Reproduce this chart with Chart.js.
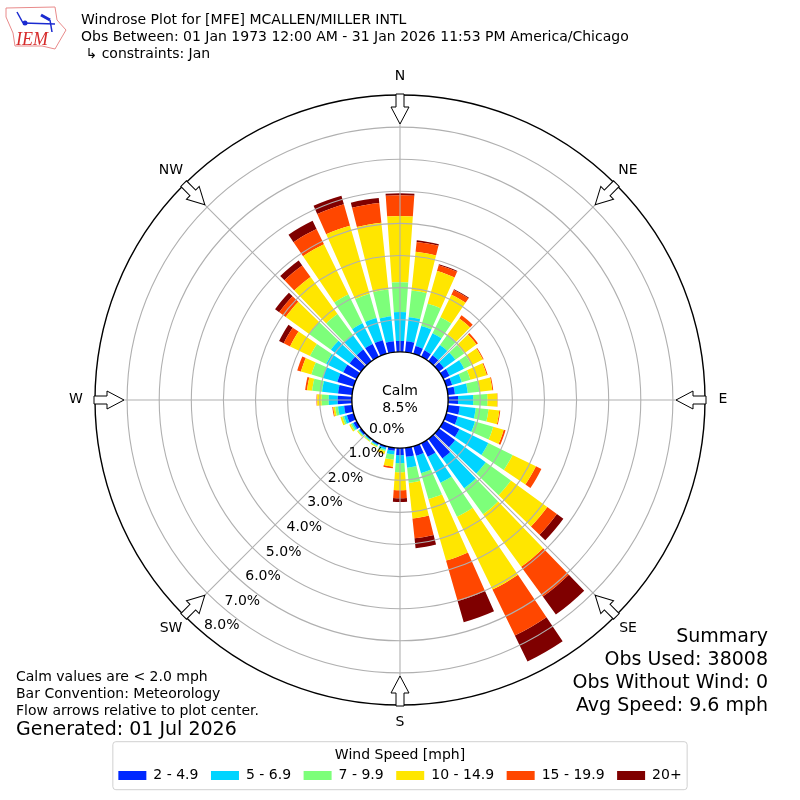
<!DOCTYPE html>
<html>
<head>
<meta charset="utf-8">
<style>
  html, body { margin: 0; padding: 0; background: #fff; }
  #wrap { width: 800px; height: 800px; }
</style>
<script src="https://cdn.jsdelivr.net/npm/chart.js@4/dist/chart.umd.min.js"></script>
</head>
<body>
<div id="wrap"><canvas id="rose" width="800" height="800"></canvas></div>
<script>
// direction bins, clockwise from north (percent of obs per speed band)
const directions = [0,10,20,30,40,50,60,70,80,90,100,110,120,130,140,150,160,170,180,190,200,210,220,230,240,250,260,270,280,290,300,310,320,330,340,350];
const band2to5 = [.34,.34,.25,.22,.22,.19,.22,.19,.22,.31,.37,.37,.56,.62,.75,.47,.31,.28,.22,.09,.05,.05,.03,.06,.11,.22,.25,.44,.44,.53,.47,.44,.44,.44,.44,.34];
const band5to7 = [.90,.75,.65,.59,.40,.44,.50,.31,.40,.47,.50,.56,1.00,1.18,1.15,.90,.56,.34,.25,.12,.06,.03,.03,.03,.05,.09,.19,.28,.50,.47,.59,.72,.56,.72,.72,.78];
const band7to10 = [.93,.84,.72,.56,.40,.34,.25,.28,.37,.44,.40,.59,.84,.97,1.00,1.18,.84,.47,.28,.16,.05,.03,.03,.03,.05,.06,.09,.22,.31,.37,.56,.84,.81,1.00,.78,.84];
const band10to15 = [2.06,1.21,1.06,.78,.62,.47,.40,.53,.40,.31,.34,.34,.81,1.40,2.02,2.52,1.99,1.12,.56,.22,.08,.03,.02,.03,.05,.06,.06,.14,.16,.34,.69,.90,1.43,1.74,2.21,2.09];
const band15to20 = [.65,.31,.19,.16,.12,.06,.03,.03,.03,.01,.03,.06,.19,.37,1.15,1.59,1.31,.62,.25,.05,.02,0,0,0,0,0,.03,.02,.06,.12,.22,.25,.44,.53,.69,.62];
const band20up = [.06,.05,.03,.03,0,0,0,0,0,0,0,0,0,.25,.69,.90,.69,.31,.12,0,0,0,0,0,0,0,0,0,0,0,.16,.16,.19,.28,.28,.16];
const bandNames = ['2 - 4.9','5 - 6.9','7 - 9.9','10 - 14.9','15 - 19.9','20+'];
const bandColours = ['#0028ff','#00d4ff','#7dff7a','#ffe600','#ff4700','#7f0000'];
const bandValues = [band2to5,band5to7,band7to10,band10to15,band15to20,band20up];

const compass = ['N','NE','E','SE','S','SW','W','NW'];
const compassPos = [[400,76.5],[628,170.5],[723,399.5],[628,628.5],[400,722.5],[171,628.5],[76,399.5],[171,170.5]];
const titleLines = ['Windrose Plot for [MFE] MCALLEN/MILLER INTL','Obs Between: 01 Jan 1973 12:00 AM - 31 Jan 2026 11:53 PM America/Chicago',' \u21B3 constraints: Jan'];
const summaryLines = ['Summary','Obs Used: 38008','Obs Without Wind: 0','Avg Speed: 9.6 mph'];
const noteLines = ['Calm values are < 2.0 mph','Bar Convention: Meteorology','Flow arrows relative to plot center.'];
const FONT = '"DejaVu Sans"';

// polar area that stacks its datasets instead of overlapping them
class WindRoseController extends Chart.PolarAreaController {
    updateElements(arcs, start, count, mode) {
        const scale = this._cachedMeta.rScale;
        const datasets = this.chart.data.datasets;
        const half = 4 * Math.PI / 180;
        for (let i = start; i < start + count; i++) {
            let base = 0;
            for (let d = 0; d < this.index; d++) base += datasets[d].data[i];
            const top = base + datasets[this.index].data[i];
            const mid = scale.getIndexAngle(i) - Math.PI / 2;
            this.updateElement(arcs[i], i, {
                x: scale.xCenter,
                y: scale.yCenter,
                innerRadius: scale.getDistanceFromCenterForValue(base),
                outerRadius: scale.getDistanceFromCenterForValue(top),
                startAngle: mid - half,
                endAngle: mid + half,
                circumference: half * 2,
                options: this.resolveDataElementOptions(i, mode)
            }, mode);
        }
    }
}
WindRoseController.id = 'windrose';
WindRoseController.defaults = Chart.PolarAreaController.defaults;
WindRoseController.overrides = Chart.PolarAreaController.overrides;
Chart.register(WindRoseController);

const spokes = {
    id: 'spokes',
    afterDatasetsDraw(chart) {
        const r = chart.scales.r, ctx = chart.ctx;
        ctx.save();
        ctx.strokeStyle = '#b0b0b0';
        ctx.lineWidth = 1.1;
        for (let k = 0; k < 8; k++) {
            const a = k * Math.PI / 4 - Math.PI / 2;
            const r0 = r.getDistanceFromCenterForValue(0), r1 = r.getDistanceFromCenterForValue(8);
            ctx.beginPath();
            ctx.moveTo(r.xCenter + r0 * Math.cos(a), r.yCenter + r0 * Math.sin(a));
            ctx.lineTo(r.xCenter + r1 * Math.cos(a), r.yCenter + r1 * Math.sin(a));
            ctx.stroke();
        }
        ctx.restore();
    }
};

function drawLogo(ctx) {
    ctx.save();
    ctx.strokeStyle = '#e88a8a';
    ctx.lineWidth = 1;
    ctx.beginPath();
    [[6,8],[55,7],[57,20],[66,30],[59,42],[55,49],[42,46],[15,46],[13,33],[6,17]].forEach((p, i) => i ? ctx.lineTo(p[0], p[1]) : ctx.moveTo(p[0], p[1]));
    ctx.closePath();
    ctx.stroke();
    ctx.strokeStyle = '#1a2ad0';
    ctx.fillStyle = '#1a2ad0';
    ctx.lineWidth = 1.5;
    [[17,12,23,23],[23,23,55,24],[50,20,52,32]].forEach(s => {
        ctx.beginPath(); ctx.moveTo(s[0], s[1]); ctx.lineTo(s[2], s[3]); ctx.stroke();
    });
    ctx.lineWidth = 3;
    ctx.beginPath(); ctx.moveTo(41, 15); ctx.lineTo(50, 20); ctx.stroke();
    ctx.beginPath(); ctx.arc(25, 23, 2.5, 0, 2 * Math.PI); ctx.fill();
    ctx.fillStyle = '#d62b2b';
    ctx.font = 'italic 18px "Liberation Serif"';
    ctx.textAlign = 'left';
    ctx.textBaseline = 'alphabetic';
    ctx.fillText('IEM', 16, 45);
    ctx.restore();
}

function drawArrow(ctx, cx, cy, angle) {
    ctx.save();
    ctx.translate(cx, cy);
    ctx.rotate(angle);
    ctx.beginPath();
    ctx.moveTo(276, 0);
    ctx.lineTo(293, -9);
    ctx.lineTo(293, -4);
    ctx.lineTo(306, -4);
    ctx.lineTo(306, 4);
    ctx.lineTo(293, 4);
    ctx.lineTo(293, 9);
    ctx.closePath();
    ctx.fillStyle = '#fff';
    ctx.fill();
    ctx.strokeStyle = '#000';
    ctx.lineWidth = 1;
    ctx.stroke();
    ctx.restore();
}

const decorations = {
    id: 'decorations',
    beforeDraw(chart) {
        // legend frame hugs the legend items
        const ctx = chart.ctx, l = chart.legend, boxes = l.legendHitBoxes;
        const last = boxes[boxes.length - 1];
        const x0 = boxes[0].left - 6, x1 = last.left + last.width + 6;
        ctx.save();
        ctx.strokeStyle = '#d0d0d0';
        ctx.lineWidth = 1;
        ctx.beginPath();
        ctx.roundRect(x0 + 0.5, l.top + 0.5, x1 - x0 - 1, 48, 3);
        ctx.stroke();
        ctx.restore();
    },
    afterDraw(chart) {
        const ctx = chart.ctx, r = chart.scales.r;
        ctx.save();
        ctx.fillStyle = '#000';

        // radial tick labels, left/bottom anchored on a ray
        const ray = 220 * Math.PI / 180;
        ctx.font = '14px ' + FONT;
        ctx.textAlign = 'left';
        ctx.textBaseline = 'bottom';
        r.ticks.filter(t => t.value >= 0).forEach(t => {
            const d = r.getDistanceFromCenterForValue(t.value);
            ctx.fillText(t.value.toFixed(1) + '%', r.xCenter + d * Math.sin(ray), r.yCenter - d * Math.cos(ray) - 1);
        });

        ctx.textBaseline = 'middle';
        ctx.textAlign = 'center';
        ctx.fillText('Calm', 400, 391);
        ctx.fillText('8.5%', 400, 408);
        compass.forEach((c, k) => {
            drawArrow(ctx, r.xCenter, r.yCenter, k * Math.PI / 4 - Math.PI / 2);
            ctx.fillStyle = '#000';
            ctx.fillText(c, compassPos[k][0], compassPos[k][1]);
        });

        ctx.textAlign = 'left';
        titleLines.forEach((t, i) => ctx.fillText(t, 81, 20 + i * 17));
        noteLines.forEach((t, i) => ctx.fillText(t, 16, 677 + i * 17));
        ctx.font = '19px ' + FONT;
        ctx.fillText('Generated: 01 Jul 2026', 16, 730.5);
        ctx.textAlign = 'right';
        summaryLines.forEach((t, i) => ctx.fillText(t, 768, 637.5 + i * 23));
        ctx.restore();
        drawLogo(ctx);
    }
};

new Chart(document.getElementById('rose'), {
    type: 'windrose',
    data: {
        labels: directions,
        datasets: bandNames.map((name, i) => ({
            label: name,
            data: bandValues[i],
            backgroundColor: bandColours[i],
            borderWidth: 0
        }))
    },
    options: {
        responsive: false,
        animation: false,
        layout: { padding: { top: 59, left: 95, right: 95, bottom: 7.5 } },
        scales: {
            r: {
                min: -1.5,
                max: 8,
                beginAtZero: false,
                angleLines: { display: false },
                pointLabels: { display: false },
                ticks: { display: false, stepSize: 1 },
                grid: {
                    z: 1,
                    circular: true,
                    color: c => c.tick.value < 0 ? 'rgba(0,0,0,0)' : (c.tick.value === 0 || c.tick.value === 8) ? '#000' : '#b0b0b0',
                    lineWidth: c => (c.tick.value === 0 || c.tick.value === 8) ? 1.4 : 1.1
                }
            }
        },
        plugins: {
            tooltip: { enabled: false },
            legend: {
                position: 'bottom',
                title: { display: true, text: 'Wind Speed [mph]', color: '#000', font: { family: FONT, size: 14 }, padding: { top: 7, bottom: -9 } },
                labels: {
                    boxWidth: 28,
                    boxHeight: 9,
                    padding: 12.5,
                    color: '#000',
                    font: { family: FONT, size: 14 },
                    generateLabels: chart => chart.data.datasets.map((ds, i) => ({
                        text: ds.label,
                        fillStyle: ds.backgroundColor,
                        strokeStyle: ds.backgroundColor,
                        lineWidth: 0,
                        datasetIndex: i
                    }))
                }
            }
        }
    },
    plugins: [spokes, decorations]
});
</script>
</body>
</html>
